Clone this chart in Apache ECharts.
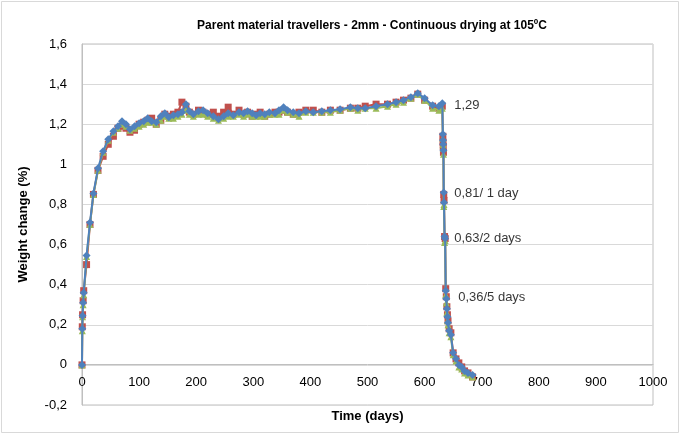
<!DOCTYPE html>
<html>
<head>
<meta charset="utf-8">
<script src="https://cdn.jsdelivr.net/npm/echarts@6/dist/echarts.min.js"></script>
<style>
  html, body { margin: 0; padding: 0; background: #fff; }
  #chart { width: 680px; height: 434px; }
</style>
</head>
<body>
<div id="chart"></div>
<script>
var days = [0, 0.5, 1, 2, 3, 8, 14, 20, 28, 37, 46, 55, 63, 70, 77, 84, 92, 100, 108, 115,
    122, 130, 138, 145, 152, 160, 168, 175, 182, 188, 195, 204, 212, 220, 230, 239, 248, 256, 265, 275,
    283, 290, 298, 305, 312, 320, 328, 338, 345, 353, 360, 370, 380, 392, 405, 420, 435, 452, 470, 483,
    496, 515, 535, 550, 563, 576, 588, 600, 614, 625, 631, 632, 632.3, 632.6, 633, 633.5, 634, 635, 636, 637,
    638, 639, 640, 641, 643, 646, 650, 655, 660, 665, 670, 676, 684];

var redValues = [0, 0.19, 0.25, 0.32, 0.37, 0.50, 0.70, 0.85, 0.97, 1.04, 1.10, 1.14, 1.18, 1.19, 1.18, 1.16, 1.17, 1.20, 1.21, 1.22,
    1.23, 1.20, 1.22, 1.25, 1.24, 1.25, 1.26, 1.31, 1.29, 1.26, 1.25, 1.27, 1.26, 1.25, 1.26, 1.24, 1.26, 1.285, 1.25, 1.27,
    1.25, 1.26, 1.24, 1.25, 1.26, 1.24, 1.25, 1.26, 1.26, 1.27, 1.26, 1.25, 1.26, 1.27, 1.27, 1.26, 1.27, 1.27, 1.28, 1.28,
    1.29, 1.30, 1.30, 1.31, 1.32, 1.33, 1.35, 1.32, 1.29, 1.28, 1.29, 1.14, 1.11, 1.09, 1.06, 0.85, 0.82, 0.64, 0.63, 0.38,
    0.34, 0.29, 0.25, 0.22, 0.18, 0.16, 0.06, 0.03, 0.01, -0.01, -0.03, -0.04, -0.06];

var greenValues = [0, 0.17, 0.24, 0.30, 0.35, 0.54, 0.70, 0.85, 0.97, 1.06, 1.12, 1.16, 1.18, 1.20, 1.19, 1.17, 1.18, 1.19, 1.20, 1.21,
    1.21, 1.20, 1.22, 1.24, 1.23, 1.23, 1.24, 1.25, 1.27, 1.25, 1.24, 1.25, 1.25, 1.24, 1.23, 1.22, 1.23, 1.24, 1.24, 1.25,
    1.24, 1.25, 1.24, 1.24, 1.24, 1.24, 1.25, 1.25, 1.25, 1.27, 1.26, 1.25, 1.24, 1.26, 1.26, 1.26, 1.26, 1.27, 1.28, 1.27,
    1.28, 1.28, 1.29, 1.30, 1.31, 1.33, 1.35, 1.32, 1.28, 1.27, 1.28, 1.13, 1.10, 1.08, 1.05, 0.79, 0.80, 0.61, 0.62, 0.35,
    0.31, 0.26, 0.22, 0.20, 0.16, 0.14, 0.05, 0.02, -0.01, -0.02, -0.04, -0.05, -0.06];

var blueValues = [0, 0.18, 0.245, 0.31, 0.36, 0.545, 0.71, 0.855, 0.98, 1.065, 1.125, 1.165, 1.19, 1.215, 1.20, 1.175, 1.19, 1.205, 1.215, 1.23,
    1.215, 1.21, 1.24, 1.255, 1.235, 1.245, 1.25, 1.26, 1.30, 1.265, 1.25, 1.265, 1.27, 1.255, 1.24, 1.225, 1.24, 1.255, 1.245, 1.26,
    1.255, 1.265, 1.255, 1.245, 1.255, 1.25, 1.26, 1.255, 1.27, 1.285, 1.27, 1.26, 1.255, 1.265, 1.26, 1.265, 1.27, 1.275, 1.285, 1.28,
    1.28, 1.29, 1.30, 1.31, 1.32, 1.335, 1.355, 1.33, 1.295, 1.29, 1.305, 1.15, 1.12, 1.10, 1.07, 0.86, 0.81, 0.64, 0.63, 0.37,
    0.33, 0.28, 0.24, 0.21, 0.17, 0.15, 0.06, 0.03, 0.0, -0.01, -0.03, -0.04, -0.05];

// text notes written next to the drying curve
var noteDays = [650, 650, 650, 657];
var noteValues = [1.295, 0.855, 0.63, 0.335];
var noteTexts = ['1,29', '0,81/ 1 day', '0,63/2 days', '0,36/5 days'];

function pairs(xs, ys) {
    return xs.map(function (x, i) { return [x, ys[i]]; });
}

var font = 'Liberation Sans, Arial, sans-serif';

var chart = echarts.init(document.getElementById('chart'), null, { renderer: 'canvas' });
var option = {
    animation: false,
    backgroundColor: '#fff',
    textStyle: { fontFamily: font },
    title: {
        text: 'Parent material travellers - 2mm - Continuous drying at 105ºC',
        left: 367,
        textAlign: 'center',
        top: 15,
        textStyle: { fontFamily: font, fontSize: 12, fontWeight: 'bold', color: '#000' }
    },
    graphic: [{
        type: 'rect',
        shape: { x: 1.5, y: 1.5, width: 677, height: 431 },
        style: { fill: 'none', stroke: '#d9d9d9', lineWidth: 1 },
        silent: true
    }],
    grid: {
        left: 82,
        right: 27,
        top: 44,
        bottom: 29,
        outerBoundsMode: 'none',
        containLabel: false,
        show: true,
        borderColor: '#bfbfbf',
        borderWidth: 1
    },
    xAxis: {
        type: 'value',
        min: 0,
        max: 1000,
        interval: 100,
        offset: -41,
        name: 'Time (days)',
        nameLocation: 'middle',
        nameGap: 46,
        nameTextStyle: { fontFamily: font, fontSize: 13, fontWeight: 'bold', color: '#000' },
        axisLine: { onZero: false, lineStyle: { color: '#bfbfbf', width: 1 } },
        axisTick: { show: false },
        axisLabel: {
            fontFamily: font, fontSize: 13, color: '#000', margin: 12,
            formatter: function (v) { return String(v); }
        },
        splitLine: { show: false }
    },
    yAxis: {
        type: 'value',
        min: -0.2,
        max: 1.6,
        interval: 0.2,
        name: 'Weight change (%)',
        nameLocation: 'middle',
        nameGap: 52,
        nameTextStyle: { fontFamily: font, fontSize: 13, fontWeight: 'bold', color: '#000' },
        axisLine: { show: true, onZero: false, lineStyle: { color: '#bfbfbf', width: 1 } },
        axisTick: { show: false },
        axisLabel: {
            fontFamily: font, fontSize: 13, color: '#000', margin: 15,
            formatter: function (v) { return String(Math.round(v * 10) / 10).replace('.', ','); }
        },
        splitLine: { show: true, lineStyle: { color: '#d9d9d9', width: 1 } }
    },
    series: [
        {
            name: 'Red',
            type: 'line',
            data: pairs(days, redValues),
            symbol: 'rect',
            symbolSize: 7,
            lineStyle: { color: '#C0504D', width: 2 },
            itemStyle: { color: '#C0504D', borderWidth: 0 },
            z: 2
        },
        {
            name: 'Green',
            type: 'line',
            data: pairs(days, greenValues),
            symbol: 'triangle',
            symbolSize: 7,
            lineStyle: { color: '#9BBB59', width: 2 },
            itemStyle: { color: '#9BBB59', borderWidth: 0 },
            z: 3
        },
        {
            name: 'Blue',
            type: 'line',
            data: pairs(days, blueValues),
            symbol: 'diamond',
            symbolSize: 8,
            lineStyle: { color: '#4F81BD', width: 2 },
            itemStyle: { color: '#4F81BD', borderWidth: 0 },
            z: 4
        },
        {
            name: 'Notes',
            type: 'scatter',
            data: noteDays.map(function (d, i) { return { value: [d, noteValues[i]], label: { formatter: noteTexts[i] } }; }),
            symbolSize: 0,
            silent: true,
            label: {
                show: true,
                position: 'right',
                distance: 1,
                fontFamily: font,
                fontSize: 13,
                color: '#000'
            },
            z: 5
        }
    ]
};
chart.setOption(option);
</script>
</body>
</html>
